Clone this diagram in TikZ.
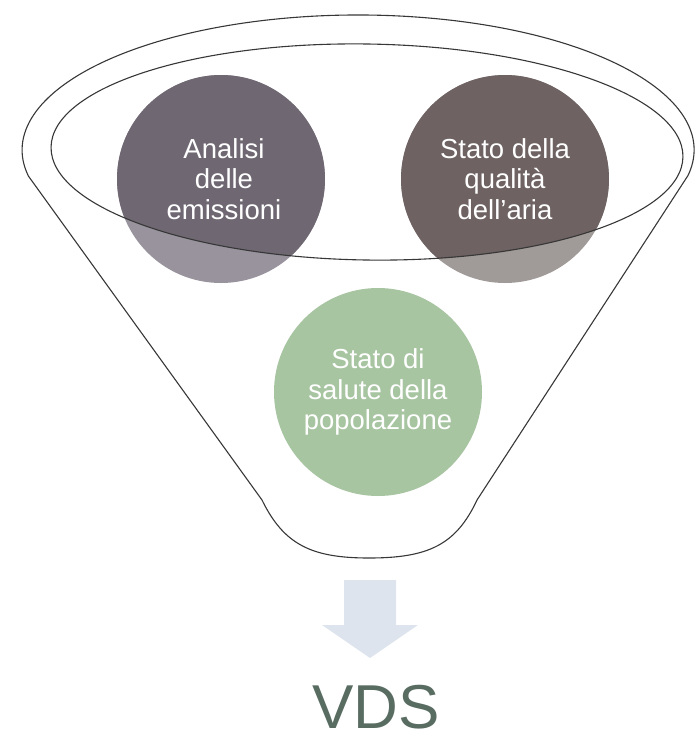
\documentclass[tikz,border=0pt]{standalone}
\usepackage{fontspec}
\setmainfont{Liberation Sans}
\usepackage{tikz}
\usepackage{xcolor}
\definecolor{bordo}{RGB}{55,55,55}
\definecolor{emischiaro}{RGB}{152,147,157}
\definecolor{emisscuro}{RGB}{111,104,115}
\definecolor{ariachiaro}{RGB}{160,154,152}
\definecolor{ariascuro}{RGB}{110,98,98}
\definecolor{salute}{RGB}{168,197,162}
\definecolor{freccia}{RGB}{221,228,237}
\definecolor{vds}{RGB}{88,108,98}

\begin{document}
\begin{tikzpicture}[x=1pt,y=-1pt,
  rim/.style={draw=bordo, line width=1.1pt},
  bocca/.style={rotate around={-0.9:(367,152)}},
  disc/.style={circle, minimum size=208pt, inner sep=0pt},
  disctext/.style={text=white, align=center, font=\fontsize{27.5}{30.5}\selectfont}]
\useasboundingbox (0,0) rectangle (696,740);
% imbuto
\draw [rim] (28,175.5) -- (262,500) .. controls (284,545) and (312,558) .. (369,558)
  .. controls (428,558) and (456,545) .. (477,500) -- (688,175.5)
  arc [start angle=10.9, end angle=-190.9, x radius=336, y radius=135];
% cerchi
\node [disc, fill=emischiaro] (emis) at (221,179) {};
\node [disc, fill=ariachiaro] (aria) at (505,179) {};
\node [disc, fill=salute] (popol) at (378,392) {};
\begin{scope}
\clip [bocca] (367,152) ellipse [x radius=316, y radius=108];
\fill [emisscuro] (emis.center) circle (104);
\fill [ariascuro] (aria.center) circle (104);
\end{scope}
% bocca
\draw [rim, bocca] (367,152) ellipse [x radius=316, y radius=108];
% testi
\node [disctext] (emistxt) at ([xshift=3pt]emis) {Analisi\\delle\\emissioni};
\node [disctext] (ariatxt) at (aria) {Stato della\\qualità\\dell’aria};
\node [disctext] (popoltxt) at (popol) {Stato di\\salute della\\popolazione};
% freccia
\fill [freccia] (344,580) -- (396,580) -- (396,625) -- (418,625) -- (370,658)
  -- (322,625) -- (344,625) -- cycle;
\node [text=vds, anchor=base, font=\fontsize{62}{62}\selectfont] (vdstxt) at (376,728) {VDS};
\end{tikzpicture}
\end{document}
